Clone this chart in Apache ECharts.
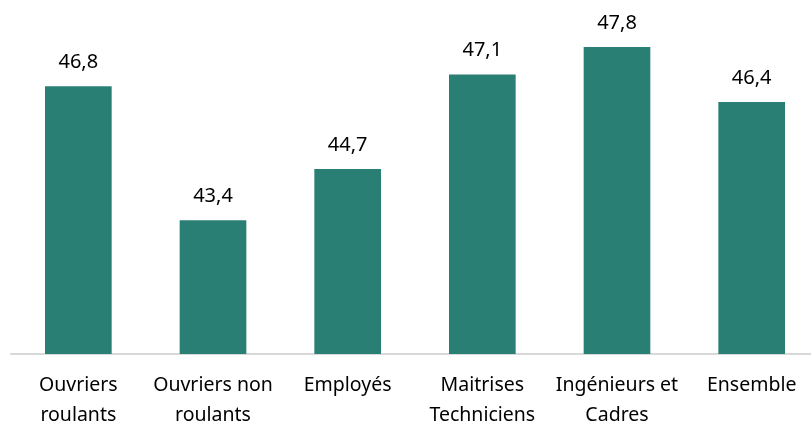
<!DOCTYPE html>
<html><head><meta charset="utf-8">
<script src="https://cdn.jsdelivr.net/npm/echarts@6/dist/echarts.min.js"></script>
<style>html,body{margin:0;padding:0;background:#fff}#c{width:811px;height:427px}</style>
</head><body><div id="c"></div>
<script>
const categories = ["Ouvriers\nroulants", "Ouvriers non\nroulants", "Employés", "Maitrises\nTechniciens", "Ingénieurs et\nCadres", "Ensemble"];
const values = [46.8, 43.4, 44.7, 47.1, 47.8, 46.4];
const FONT = "Noto Sans";
const chart = echarts.init(document.getElementById('c'), null, {renderer: 'canvas'});
chart.setOption({
  animation: false,
  grid: {left: 11, width: 808, top: 39, bottom: 73, containLabel: false, outerBoundsMode: 'none'},
  xAxis: {
    type: 'category', data: categories,
    axisLine: {lineStyle: {color: '#d9d9d9', width: 2}},
    axisTick: {show: false},
    axisLabel: {color: '#000', fontSize: 19.5, fontFamily: FONT, lineHeight: 30, margin: 16, interval: 0}
  },
  yAxis: {type: 'value', min: 40, max: 48, show: false, splitLine: {show: false}},
  series: [{
    type: 'bar', data: values, barWidth: '49.5%',
    itemStyle: {color: '#2a7f74'},
    label: {show: true, position: 'top', distance: 14, color: '#000', fontSize: 20, fontFamily: FONT,
      formatter: p => p.value.toFixed(1).replace('.', ',')}
  }]
});
</script></body></html>
